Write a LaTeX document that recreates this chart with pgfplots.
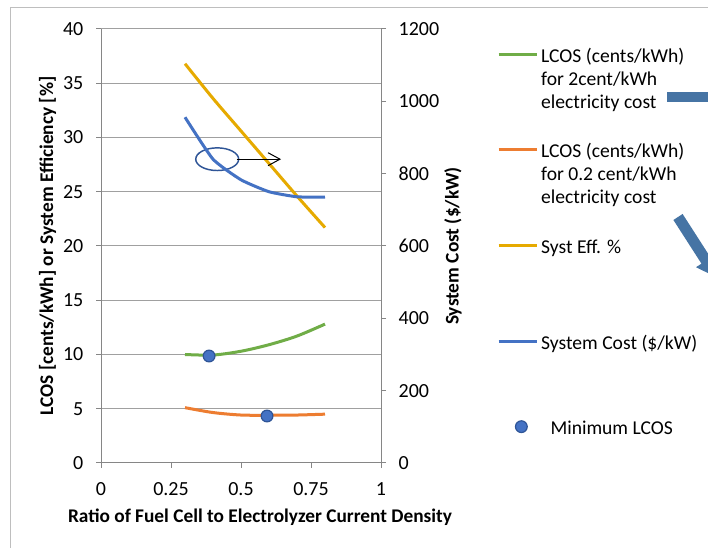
\documentclass[border=0pt]{standalone}
\usepackage{pgfplots}
\pgfplotsset{compat=1.18}
\usepackage{fontspec}
\setmainfont{Carlito}
\usetikzlibrary{arrows.meta}
\definecolor{cgreen}{RGB}{112,173,71}
\definecolor{corange}{RGB}{237,125,49}
\definecolor{cyellow}{RGB}{230,170,0}
\definecolor{cblue}{RGB}{68,114,196}
\definecolor{cdblue}{RGB}{47,85,151}
\definecolor{axgray}{RGB}{134,134,134}
\definecolor{gridgray}{RGB}{160,160,160}
\definecolor{arrowblue}{RGB}{70,116,164}
\definecolor{framegray}{RGB}{190,190,190}
\newcommand{\legtext}[2]{\parbox[t][#1][t]{5cm}{\fontsize{14.7}{17.6}\selectfont\strut #2}}
\pgfplotsset{
  common/.style={
    at={(75.75pt,63.75pt)}, anchor=south west,
    scale only axis, width=210pt, height=325.5pt,
    xmin=0, xmax=1,
    tick align=outside, major tick length=3.75pt,
    tick style={axgray, line width=0.75pt},
    axis line style={axgray, line width=0.75pt, -},
    /pgf/number format/assume math mode=true,
    /pgf/number format/1000 sep={},
    scaled ticks=false,
    tick label style={font=\fontsize{15}{17.6}\selectfont, text=black},
    label style={font=\fontsize{14.5}{17.6}\selectfont\bfseries, text=black},
    clip=false,
  }
}
\begin{document}
\fontsize{14.5}{17.6}\selectfont
\begin{tikzpicture}
\clip (0,0) rectangle (531pt,411pt);
\fill[white] (0,0) rectangle (531pt,411pt);
\begin{scope}[x=0.75pt,y=-0.75pt,yshift=411pt]
  \draw[framegray, line width=0.75pt] (10,560) -- (10,7.5) -- (720,7.5);
  \fill[arrowblue] (667.3,92) rectangle (720,102);
  \fill[arrowblue] (673.4,220) -- (701.5,263.7) -- (696,267.2) -- (716.9,277.5) -- (716.2,254.2) -- (710.7,257.7) -- (682.6,214) -- cycle;
\end{scope}
\begin{axis}[common,
  ymin=0, ymax=40,
  axis x line*=bottom, axis y line*=left,
  xtick={0,0.25,0.5,0.75,1},
  ytick={0,5,...,40},
  yticklabel style={xshift=-4.5pt},
  xticklabel style={yshift=-6pt},
  ymajorgrids, major grid style={gridgray, line width=0.75pt},
  xlabel={Ratio of Fuel Cell to Electrolyzer Current Density},
  ylabel={LCOS [cents/kWh] or System Efficiency [\%]},
  xlabel style={at={(axis description cs:0.568,-0.136)}, anchor=base},
  ylabel style={at={(axis description cs:-0.191,0.5)}, anchor=center},
]
\addplot[cyellow, line width=2.25pt, smooth] coordinates {(0.3,36.8)(0.4,33.6)(0.5,30.6)(0.6,27.6)(0.7,24.6)(0.8,21.7)};
\addplot[cgreen, line width=2.25pt, smooth] coordinates {(0.3,10.0)(0.4,9.95)(0.5,10.3)(0.6,10.9)(0.7,11.7)(0.8,12.8)};
\addplot[corange, line width=2.25pt, smooth] coordinates {(0.3,5.1)(0.4,4.65)(0.5,4.42)(0.6,4.4)(0.7,4.42)(0.8,4.5)};
\draw[cdblue, line width=1.1pt] (axis cs:0.415,28.0) ellipse [x radius=16.1pt, y radius=8.5pt];
\draw[black, line width=0.75pt, -{Straight Barb[length=9pt, width=9.75pt]}] (axis cs:0.4845,28) -- (axis cs:0.643,28);
\addplot[only marks, mark=*, mark size=4.4pt, mark options={fill=cblue, draw=cdblue, line width=0.9pt}] coordinates {(0.386,9.86)(0.593,4.33)};
\end{axis}
\begin{axis}[common,
  ymin=0, ymax=1200,
  axis x line=none, axis y line*=right,
  ytick={0,200,...,1200},
  yticklabel style={xshift=4.5pt},
  ylabel={System Cost (\$/kW)},
  ylabel style={at={(axis description cs:1.257,0.5)}, anchor=center},
  legend cell align=left,
  legend style={at={(axis description cs:1.414,0.9624)}, anchor=north west, draw=none, fill=none,
    inner sep=0pt, row sep=0pt, column sep=2.25pt,
    nodes={inner sep=0pt, text depth={}, font=\fontsize{14.7}{17.6}\selectfont},
    cells={anchor=base west}},
  legend image code/.code={\draw[#1] (0pt,5.5pt) -- (28.5pt,5.5pt);},
]
\addlegendimage{cgreen, line width=2.25pt}
\addlegendentry{\legtext{71.25pt}{LCOS (cents/kWh)\\for 2cent/kWh\\electricity cost}}
\addlegendimage{corange, line width=2.25pt}
\addlegendentry{\legtext{72pt}{LCOS (cents/kWh)\\for 0.2 cent/kWh\\electricity cost}}
\addlegendimage{cyellow, line width=2.25pt}
\addlegendentry{\legtext{72pt}{Syst Eff. \%}}
\addplot[cblue, line width=2.25pt, smooth, tension=0.3] coordinates {(0.3,956)(0.4,840)(0.5,783)(0.6,750)(0.7,736)(0.8,735)};
\addlegendentry{\legtext{63.75pt}{System Cost (\$/kW)}}
\addlegendimage{legend image code/.code={\draw[mark=*, mark size=4.4pt, mark options={fill=cblue, draw=cdblue, line width=0.9pt}] plot coordinates {(17pt,5.5pt)};}}
\addlegendentry{\legtext{20pt}{\hspace*{7pt}Minimum LCOS}}
\end{axis}
\end{tikzpicture}
\end{document}
